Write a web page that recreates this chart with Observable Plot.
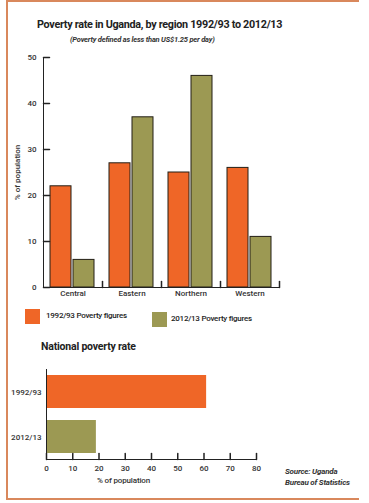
<!DOCTYPE html>
<html><head><meta charset="utf-8">
<script src="https://cdn.jsdelivr.net/npm/d3@7"></script>
<script src="https://cdn.jsdelivr.net/npm/@observablehq/plot@0.6"></script>
<style>
body{margin:0;background:#fff;font-family:Roboto,"Noto Sans",sans-serif;color:#222;}
#wrap{position:relative;width:369px;height:503px;overflow:hidden;background:#fff;}
.frame{position:absolute;left:6px;top:0;width:353px;height:500px;border-top:2px solid #d9885c;border-left:2px solid #d9885c;border-bottom:2px solid #d9885c;box-sizing:border-box;}
.abs{position:absolute;white-space:nowrap;}
#title{left:37px;top:18px;font-size:10.8px;font-weight:bold;letter-spacing:-0.3px;}
#subtitle{left:70px;top:35px;font-size:7.5px;font-weight:bold;font-style:italic;letter-spacing:-0.2px;color:#333;}
.sw{position:absolute;width:15px;height:15px;}
.lg{font-size:8px;font-weight:500;letter-spacing:-0.25px;color:#222;}
#nat{left:41px;top:340px;font-size:10.5px;font-weight:bold;letter-spacing:-0.2px;}
#xlab{left:97px;top:476px;font-size:8px;font-weight:500;letter-spacing:-0.15px;color:#333;}
#source{left:285px;top:467px;font-size:8px;font-weight:bold;font-style:italic;line-height:10.5px;letter-spacing:-0.2px;color:#333;}
svg{position:absolute;left:0;}
</style></head>
<body><div id="wrap">
<div class="frame"></div>
<div id="title" class="abs"></div>
<div id="subtitle" class="abs"></div>
<div id="nat" class="abs"></div>
<div id="xlab" class="abs"></div>
<div id="source" class="abs"></div>
</div>
<script>
const titleText = "Poverty rate in Uganda, by region 1992/93 to 2012/13";
const subtitleText = "(Poverty defined as less than US$1.25 per day)";
const regions = ["Central", "Eastern", "Northern", "Western"];
const years = ["1992/93", "2012/13"];
const values1992 = [22, 27, 25, 26];
const values2012 = [6, 37, 46, 11];
const yTicks = [0, 10, 20, 30, 40, 50];
const yLabel = "% of population";
const legendLabels = ["1992/93 Poverty figures", "2012/13 Poverty figures"];
const colors = ["#ef6627", "#9c9953"];
const nationalTitle = "National poverty rate";
const nationalYears = ["1992/93", "2012/13"];
const nationalValues = [61, 19];
const xTicks = [0, 10, 20, 30, 40, 50, 60, 70, 80];
const xLabel = "% of population";
const sourceLines = ["Source: Uganda", "Bureau of Statistics"];

document.getElementById("title").textContent = titleText;
document.getElementById("subtitle").textContent = subtitleText;
document.getElementById("nat").textContent = nationalTitle;
document.getElementById("xlab").textContent = xLabel;
document.getElementById("source").innerHTML = sourceLines.join("<br>");

const wrap = document.getElementById("wrap");
const legendPos = [{sx:25, sy:309, tx:46}, {sx:152, sy:312, tx:171}];
legendLabels.forEach((t, i) => {
  const sw = document.createElement("div");
  sw.className = "sw";
  sw.style.left = legendPos[i].sx + "px";
  sw.style.top = legendPos[i].sy + "px";
  sw.style.background = colors[i];
  wrap.appendChild(sw);
  const tx = document.createElement("div");
  tx.className = "abs lg";
  tx.style.left = legendPos[i].tx + "px";
  tx.style.top = (legendPos[i].sy + 2) + "px";
  tx.textContent = t;
  wrap.appendChild(tx);
});

const ink = "#222";
const tickShape = {draw(context, l) { context.moveTo(0, 0); context.lineTo(0, -l); }};
const textStyle = {fontFamily: "Roboto, sans-serif", fontSize: "8px", fontWeight: 500, color: "#333", background: "transparent", overflow: "visible"};

const data1 = regions.flatMap((r, i) => [
  {region: r, year: years[0], value: values1992[i]},
  {region: r, year: years[1], value: values2012[i]}
]);
const chart1 = Plot.plot({
  width: 369, height: 260,
  marginTop: 12, marginBottom: 18, marginLeft: 42, marginRight: 89,
  style: textStyle,
  fx: {domain: regions, padding: 0, label: null},
  x: {domain: years, paddingInner: 0.083, paddingOuter: 0.28, axis: null},
  y: {domain: [0, 50]},
  color: {domain: years, range: colors},
  marks: [
    Plot.barY(data1, {fx: "region", x: "year", y: "value", fill: "year", stroke: "#231f16", strokeWidth: 1}),
    Plot.ruleY([0], {stroke: ink}),
    Plot.frame({anchor: "left", facetAnchor: "left", stroke: ink}),
    Plot.axisY(yTicks, {tickSize: 0, tickPadding: 7, label: yLabel, labelAnchor: "center", labelOffset: 29, labelArrow: "none"}),
    Plot.vector(yTicks, {y: d => d, fx: () => regions[0], frameAnchor: "left", length: 6, rotate: 90, anchor: "start", shape: tickShape, stroke: ink}),
    Plot.vector(regions, {fx: d => d, frameAnchor: "bottom-right", length: 6, rotate: 0, anchor: "start", shape: tickShape, stroke: ink}),
    Plot.axisFx({anchor: "bottom", tickSize: 0, tickPadding: 3, label: null})
  ]
});
chart1.style.top = "45px";
wrap.appendChild(chart1);

const data2 = nationalYears.map((y, i) => ({year: y, value: nationalValues[i]}));
const chart2 = Plot.plot({
  width: 369, height: 140,
  marginTop: 14, marginBottom: 36, marginLeft: 46, marginRight: 113,
  style: textStyle,
  x: {domain: [0, 80]},
  y: {domain: nationalYears, paddingInner: 0.267, paddingOuter: 0.133},
  color: {domain: years, range: colors},
  marks: [
    Plot.barX(data2, {x: "value", y: "year", fill: "year"}),
    Plot.frame({anchor: "left", stroke: ink}),
    Plot.frame({anchor: "bottom", stroke: ink}),
    Plot.axisY({tickSize: 0, tickPadding: 5, label: null}),
    Plot.axisX(xTicks, {tickSize: 0, tickPadding: 6, label: null}),
    Plot.vector(xTicks, {x: d => d, frameAnchor: "bottom", length: 6, rotate: 0, anchor: "start", shape: tickShape, stroke: ink})
  ]
});
chart2.style.top = "355px";
wrap.appendChild(chart2);
</script>
</body></html>
